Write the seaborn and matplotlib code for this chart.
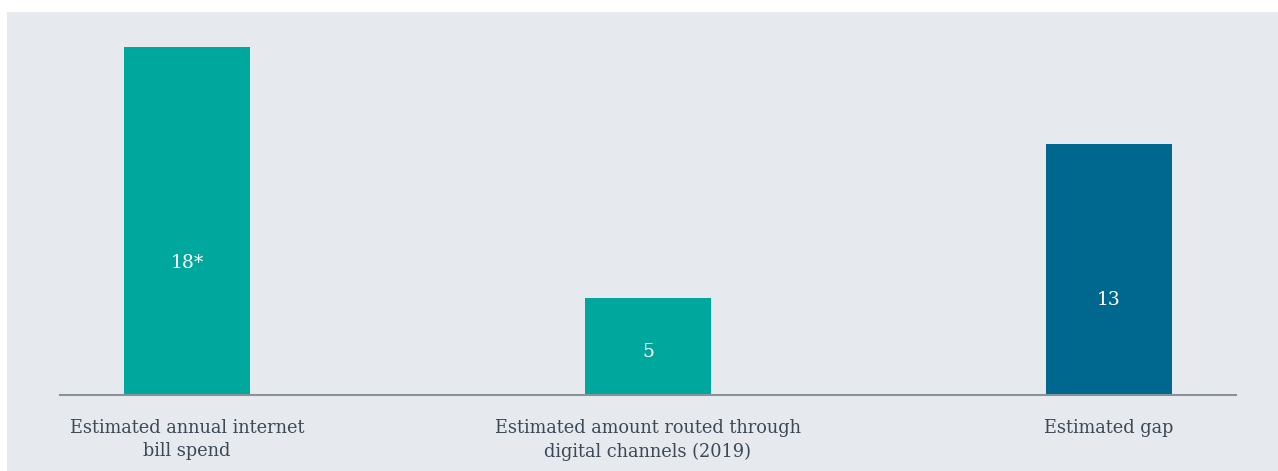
import matplotlib
matplotlib.use("Agg")
import matplotlib.pyplot as plt
import seaborn as sns
import pandas as pd
from matplotlib.patches import Rectangle

categories = ["Estimated annual internet\nbill spend",
              "Estimated amount routed through\ndigital channels (2019)",
              "Estimated gap"]
values = [18, 5, 13]
value_labels = ["18*", "5", "13"]
colors = ["#00a79d", "#00a79d", "#00688f"]
label_frac = [0.38, 0.44, 0.38]

sns.set_theme(style="white")
plt.rcParams['font.family'] = ['DejaVu Serif']

BG = "#e6e9ee"
TEXT = "#3d4a55"

fig = plt.figure(figsize=(12.78, 4.71), dpi=100)
fig.patch.set_facecolor("white")
fig.patches.append(Rectangle((7/1278, 0), 1 - 7/1278, (471-12)/471,
                             transform=fig.transFigure, facecolor=BG,
                             edgecolor="none", zorder=-10))

ax = fig.add_axes([60/1278, (471-395)/471, 1176/1278, (395-30)/471])
ax.set_facecolor("none")

df = pd.DataFrame({"cat": categories, "val": values})
sns.barplot(data=df, x="cat", y="val", hue="cat", palette=colors,
            width=0.273, saturation=1, legend=False, linewidth=0, ax=ax)

ax.set_xlim(-0.2755, 2.2755)
ax.set_ylim(0, 365/19.33)

for i, (v, lab, f) in enumerate(zip(values, value_labels, label_frac)):
    ax.text(i, v*f, lab, ha="center", va="center", color="white", fontsize=13.5)

for s in ["top", "right", "left"]:
    ax.spines[s].set_visible(False)
ax.spines["bottom"].set_color("#8a9399")
ax.spines["bottom"].set_linewidth(1.5)
ax.set_yticks([])
ax.set_xlabel("")
ax.set_ylabel("")
ax.tick_params(axis="x", length=0, pad=17.5, labelsize=12.8, labelcolor=TEXT)
for t in ax.get_xticklabels():
    t.set_linespacing(1.35)

fig.savefig("out.png", dpi=100, facecolor=fig.get_facecolor())
